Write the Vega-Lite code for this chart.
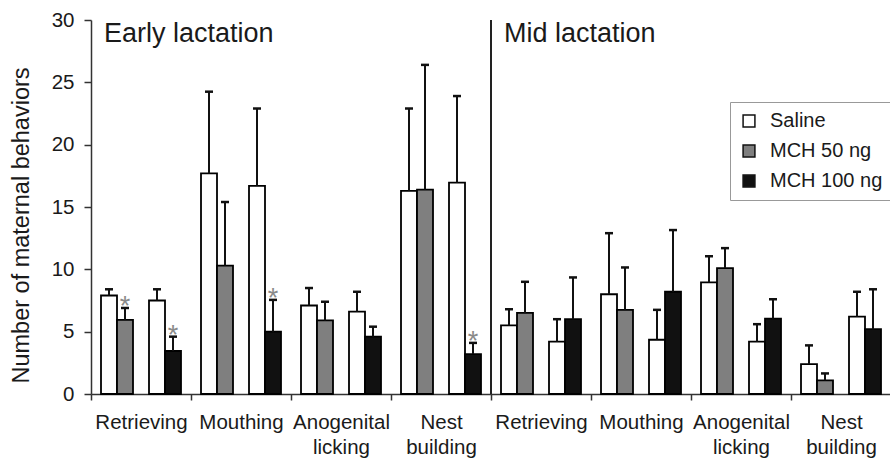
{
  "$schema": "https://vega.github.io/schema/vega-lite/v6.json",
  "width": 800,
  "height": 374,
  "autosize": "none",
  "padding": {"left": 91, "top": 20, "right": 0, "bottom": 65},
  "background": "#ffffff",
  "config": {"font": "Liberation Sans", "view": {"stroke": null}, "axis": {"grid": false}},
  "datasets": {
    "bars": [
      {"cat": "Early|Retrieving", "slot": "Saline (vs 50)", "treatment": "Saline", "mean": 7.9, "upper": 8.4, "sig": false},
      {"cat": "Early|Retrieving", "slot": "MCH 50 ng", "treatment": "MCH 50 ng", "mean": 5.95, "upper": 6.9, "sig": true},
      {"cat": "Early|Retrieving", "slot": "Saline (vs 100)", "treatment": "Saline", "mean": 7.5, "upper": 8.4, "sig": false},
      {"cat": "Early|Retrieving", "slot": "MCH 100 ng", "treatment": "MCH 100 ng", "mean": 3.45, "upper": 4.6, "sig": true},
      {"cat": "Early|Mouthing", "slot": "Saline (vs 50)", "treatment": "Saline", "mean": 17.7, "upper": 24.25, "sig": false},
      {"cat": "Early|Mouthing", "slot": "MCH 50 ng", "treatment": "MCH 50 ng", "mean": 10.3, "upper": 15.4, "sig": false},
      {"cat": "Early|Mouthing", "slot": "Saline (vs 100)", "treatment": "Saline", "mean": 16.7, "upper": 22.9, "sig": false},
      {"cat": "Early|Mouthing", "slot": "MCH 100 ng", "treatment": "MCH 100 ng", "mean": 5.0, "upper": 7.55, "sig": true},
      {"cat": "Early|Anogenital licking", "slot": "Saline (vs 50)", "treatment": "Saline", "mean": 7.1, "upper": 8.5, "sig": false},
      {"cat": "Early|Anogenital licking", "slot": "MCH 50 ng", "treatment": "MCH 50 ng", "mean": 5.9, "upper": 7.4, "sig": false},
      {"cat": "Early|Anogenital licking", "slot": "Saline (vs 100)", "treatment": "Saline", "mean": 6.6, "upper": 8.2, "sig": false},
      {"cat": "Early|Anogenital licking", "slot": "MCH 100 ng", "treatment": "MCH 100 ng", "mean": 4.6, "upper": 5.4, "sig": false},
      {"cat": "Early|Nest building", "slot": "Saline (vs 50)", "treatment": "Saline", "mean": 16.3, "upper": 22.9, "sig": false},
      {"cat": "Early|Nest building", "slot": "MCH 50 ng", "treatment": "MCH 50 ng", "mean": 16.4, "upper": 26.4, "sig": false},
      {"cat": "Early|Nest building", "slot": "Saline (vs 100)", "treatment": "Saline", "mean": 16.95, "upper": 23.9, "sig": false},
      {"cat": "Early|Nest building", "slot": "MCH 100 ng", "treatment": "MCH 100 ng", "mean": 3.2, "upper": 4.1, "sig": true},
      {"cat": "Mid|Retrieving", "slot": "Saline (vs 50)", "treatment": "Saline", "mean": 5.5, "upper": 6.8, "sig": false},
      {"cat": "Mid|Retrieving", "slot": "MCH 50 ng", "treatment": "MCH 50 ng", "mean": 6.5, "upper": 9.0, "sig": false},
      {"cat": "Mid|Retrieving", "slot": "Saline (vs 100)", "treatment": "Saline", "mean": 4.2, "upper": 6.0, "sig": false},
      {"cat": "Mid|Retrieving", "slot": "MCH 100 ng", "treatment": "MCH 100 ng", "mean": 6.0, "upper": 9.35, "sig": false},
      {"cat": "Mid|Mouthing", "slot": "Saline (vs 50)", "treatment": "Saline", "mean": 8.0, "upper": 12.9, "sig": false},
      {"cat": "Mid|Mouthing", "slot": "MCH 50 ng", "treatment": "MCH 50 ng", "mean": 6.75, "upper": 10.15, "sig": false},
      {"cat": "Mid|Mouthing", "slot": "Saline (vs 100)", "treatment": "Saline", "mean": 4.35, "upper": 6.75, "sig": false},
      {"cat": "Mid|Mouthing", "slot": "MCH 100 ng", "treatment": "MCH 100 ng", "mean": 8.2, "upper": 13.15, "sig": false},
      {"cat": "Mid|Anogenital licking", "slot": "Saline (vs 50)", "treatment": "Saline", "mean": 8.95, "upper": 11.05, "sig": false},
      {"cat": "Mid|Anogenital licking", "slot": "MCH 50 ng", "treatment": "MCH 50 ng", "mean": 10.1, "upper": 11.7, "sig": false},
      {"cat": "Mid|Anogenital licking", "slot": "Saline (vs 100)", "treatment": "Saline", "mean": 4.2, "upper": 5.6, "sig": false},
      {"cat": "Mid|Anogenital licking", "slot": "MCH 100 ng", "treatment": "MCH 100 ng", "mean": 6.05, "upper": 7.6, "sig": false},
      {"cat": "Mid|Nest building", "slot": "Saline (vs 50)", "treatment": "Saline", "mean": 2.4, "upper": 3.9, "sig": false},
      {"cat": "Mid|Nest building", "slot": "MCH 50 ng", "treatment": "MCH 50 ng", "mean": 1.1, "upper": 1.65, "sig": false},
      {"cat": "Mid|Nest building", "slot": "Saline (vs 100)", "treatment": "Saline", "mean": 6.2, "upper": 8.2, "sig": false},
      {"cat": "Mid|Nest building", "slot": "MCH 100 ng", "treatment": "MCH 100 ng", "mean": 5.2, "upper": 8.4, "sig": false}
    ]
  },
  "layer": [
    {
      "data": {"name": "bars"},
      "mark": {"type": "bar", "stroke": "#000000", "strokeWidth": 1.8},
      "encoding": {
        "x": {
          "field": "cat", "type": "nominal",
          "scale": {"domain": ["Early|Retrieving", "Early|Mouthing", "Early|Anogenital licking", "Early|Nest building", "Mid|Retrieving", "Mid|Mouthing", "Mid|Anogenital licking", "Mid|Nest building"], "paddingInner": 0, "paddingOuter": 0},
          "axis": {"title": null, "labelExpr": "indexof(datum.label + '', '|') >= 0 ? split(split(datum.label, '|')[1], ' ') : ''", "labelAngle": 0, "labelFontSize": 20.5, "labelColor": "#1a1a1a", "labelLineHeight": 25, "labelPadding": 12, "labelBaseline": "top", "tickBand": "extent", "tickSize": 6, "tickColor": "#333333", "tickWidth": 1.5, "domainColor": "#333333", "domainWidth": 1.5}
        },
        "xOffset": {"field": "slot", "type": "nominal", "scale": {"domain": ["Saline (vs 50)", "MCH 50 ng", "gap", "Saline (vs 100)", "MCH 100 ng"], "paddingInner": 0, "paddingOuter": 0.625}},
        "y": {
          "field": "mean", "type": "quantitative",
          "scale": {"domain": [0, 30], "nice": false},
          "axis": {"title": "Number of maternal behaviors", "values": [0, 5, 10, 15, 20, 25, 30], "labelFontSize": 20.5, "labelColor": "#1a1a1a", "labelPadding": 10, "tickSize": 7, "tickColor": "#333333", "tickWidth": 1.5, "domainColor": "#333333", "domainWidth": 1.5, "titleFontSize": 23.5, "titleFontWeight": "normal", "titleColor": "#1a1a1a", "titlePadding": 18, "titleY": 205}
        },
        "fill": {
          "field": "treatment", "type": "nominal",
          "scale": {"domain": ["Saline", "MCH 50 ng", "MCH 100 ng"], "range": ["#ffffff", "#7f7f7f", "#111111"]},
          "legend": {"title": null, "orient": "none", "legendX": 639, "legendY": 82, "direction": "vertical", "strokeColor": "#999999", "fillColor": "#ffffff", "padding": 9, "symbolType": "square", "symbolSize": 140, "symbolStrokeColor": "#111111", "symbolStrokeWidth": 1.5, "symbolOpacity": 1, "labelFontSize": 20, "labelColor": "#1a1a1a", "labelOffset": 11, "rowPadding": 10}
        }
      }
    },
    {
      "data": {"name": "bars"},
      "mark": {"type": "rule", "color": "#111111", "strokeWidth": 2},
      "encoding": {
        "x": {"field": "cat", "type": "nominal", "scale": {"domain": ["Early|Retrieving", "Early|Mouthing", "Early|Anogenital licking", "Early|Nest building", "Mid|Retrieving", "Mid|Mouthing", "Mid|Anogenital licking", "Mid|Nest building"], "paddingInner": 0, "paddingOuter": 0}},
        "xOffset": {"field": "slot", "type": "nominal", "scale": {"domain": ["Saline (vs 50)", "MCH 50 ng", "gap", "Saline (vs 100)", "MCH 100 ng"], "paddingInner": 0, "paddingOuter": 0.625}},
        "y": {"field": "mean", "type": "quantitative", "scale": {"domain": [0, 30], "nice": false}},
        "y2": {"field": "upper"}
      }
    },
    {
      "data": {"name": "bars"},
      "mark": {"type": "tick", "color": "#111111", "thickness": 2.5, "size": 8, "orient": "horizontal", "opacity": 1},
      "encoding": {
        "x": {"field": "cat", "type": "nominal", "scale": {"domain": ["Early|Retrieving", "Early|Mouthing", "Early|Anogenital licking", "Early|Nest building", "Mid|Retrieving", "Mid|Mouthing", "Mid|Anogenital licking", "Mid|Nest building"], "paddingInner": 0, "paddingOuter": 0}},
        "xOffset": {"field": "slot", "type": "nominal", "scale": {"domain": ["Saline (vs 50)", "MCH 50 ng", "gap", "Saline (vs 100)", "MCH 100 ng"], "paddingInner": 0, "paddingOuter": 0.625}},
        "y": {"field": "upper", "type": "quantitative", "scale": {"domain": [0, 30], "nice": false}}
      }
    },
    {
      "data": {"name": "bars"},
      "transform": [{"filter": "datum.sig"}],
      "mark": {"type": "text", "text": "*", "fontSize": 27, "color": "#8a8a8a", "dy": 7, "baseline": "alphabetic", "align": "center"},
      "encoding": {
        "x": {"field": "cat", "type": "nominal", "scale": {"domain": ["Early|Retrieving", "Early|Mouthing", "Early|Anogenital licking", "Early|Nest building", "Mid|Retrieving", "Mid|Mouthing", "Mid|Anogenital licking", "Mid|Nest building"], "paddingInner": 0, "paddingOuter": 0}},
        "xOffset": {"field": "slot", "type": "nominal", "scale": {"domain": ["Saline (vs 50)", "MCH 50 ng", "gap", "Saline (vs 100)", "MCH 100 ng"], "paddingInner": 0, "paddingOuter": 0.625}},
        "y": {"field": "upper", "type": "quantitative", "scale": {"domain": [0, 30], "nice": false}}
      }
    },
    {
      "data": {"values": [{"cat": "Mid|Retrieving"}]},
      "mark": {"type": "rule", "color": "#222222", "strokeWidth": 2},
      "encoding": {
        "x": {"field": "cat", "type": "nominal", "bandPosition": 0, "scale": {"domain": ["Early|Retrieving", "Early|Mouthing", "Early|Anogenital licking", "Early|Nest building", "Mid|Retrieving", "Mid|Mouthing", "Mid|Anogenital licking", "Mid|Nest building"], "paddingInner": 0, "paddingOuter": 0}}
      }
    },
    {
      "data": {"values": [{"cat": "Early|Retrieving", "label": "Early lactation"}, {"cat": "Mid|Retrieving", "label": "Mid lactation"}]},
      "mark": {"type": "text", "align": "left", "baseline": "alphabetic", "fontSize": 27, "dx": 13, "dy": 22, "color": "#1a1a1a"},
      "encoding": {
        "x": {"field": "cat", "type": "nominal", "bandPosition": 0, "scale": {"domain": ["Early|Retrieving", "Early|Mouthing", "Early|Anogenital licking", "Early|Nest building", "Mid|Retrieving", "Mid|Mouthing", "Mid|Anogenital licking", "Mid|Nest building"], "paddingInner": 0, "paddingOuter": 0}},
        "y": {"datum": 30, "type": "quantitative", "scale": {"domain": [0, 30], "nice": false}},
        "text": {"field": "label"}
      }
    }
  ]
}
